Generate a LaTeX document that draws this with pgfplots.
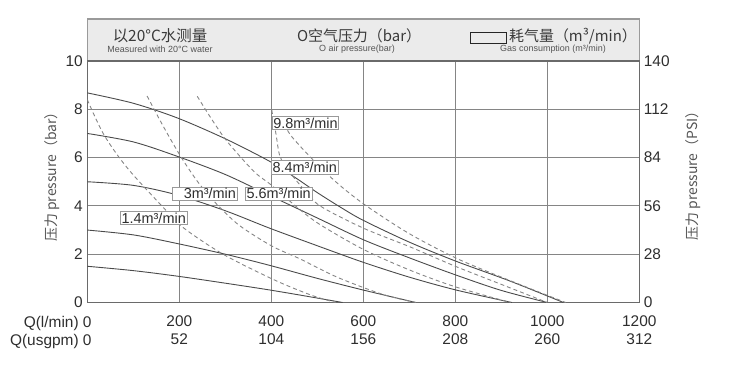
\documentclass[border=0pt]{standalone}
\usepackage{fontspec}
\setmainfont{Liberation Sans}
\newfontfamily\cjk{Noto Sans CJK SC}
\usepackage{pgfplots}
\pgfplotsset{compat=1.18}

\definecolor{gridc}{HTML}{858585}
\definecolor{framec}{HTML}{6A6A6A}
\definecolor{solidc}{HTML}{4A4A4A}
\definecolor{dashc}{HTML}{858585}
\definecolor{txt}{HTML}{2E2E2E}
\definecolor{hdrtxt}{HTML}{3A3A3A}
\definecolor{labtxt}{HTML}{555555}
\definecolor{hdrfill}{HTML}{EBEBEB}
\definecolor{hdrline}{HTML}{9A9A9A}

\begin{document}
\begin{tikzpicture}[x=1bp,y=1bp]
\useasboundingbox (0,0) rectangle (732,373);
% header band
\fill[hdrfill] (87.3,312) rectangle (639.3,354);
\draw[hdrline, line width=1.4bp] (87.3,312) rectangle (639.3,354);

\begin{axis}[
  at={(87.3bp,70.5bp)}, anchor=south west, scale only axis,
  width=552bp, height=241.5bp,
  xmin=0, xmax=1200, ymin=0, ymax=10,
  xtick={0,200,...,1200}, ytick={0,2,...,10},
  /pgf/number format/assume math mode=true,
  xticklabels={{\llap{Q(l/min) }0\\\llap{Q(usgpm) }0},{200\\52},{400\\104},{600\\156},{800\\208},{1000\\260},{1200\\312}},
  xticklabel style={align=center, font=\fontsize{15.5}{18}\selectfont, text=txt, yshift=-10bp},
  yticklabel style={font=\fontsize{15.5}{18}\selectfont, text=txt, xshift=-1bp},
  grid=major, major grid style={gridc, line width=1bp},
  axis line style={framec, line width=1.3bp},
  tick style={draw=none},
]
% solid curves: head pressure at each air pressure
\addplot[solidc, line width=0.9bp, smooth] coordinates {(0,8.68) (100,8.25) (196,7.64) (300,6.78) (396,5.85) (450,5.2) (500,4.55) (550,3.95) (600,3.4) (700,2.5) (800,1.72) (920,0.88) (1035,0)};
\addplot[solidc, line width=0.9bp, smooth] coordinates {(0,7.0) (100,6.65) (196,6.05) (300,5.3) (400,4.4) (500,3.5) (600,2.6) (700,1.85) (801,1.14) (900,0.5) (1000,0)};
\addplot[solidc, line width=0.9bp, smooth] coordinates {(0,5.0) (100,4.85) (196,4.45) (300,3.8) (396,3.08) (500,2.35) (599,1.67) (700,1.05) (801,0.52) (923,0)};
\addplot[solidc, line width=0.9bp, smooth] coordinates {(0,3.0) (100,2.8) (196,2.44) (300,2.0) (396,1.54) (500,1.0) (599,0.52) (714,0)};
\addplot[solidc, line width=0.9bp, smooth] coordinates {(0,1.5) (100,1.32) (196,1.09) (300,0.8) (396,0.52) (480,0.25) (555,0)};
% dashed curves: air consumption
\addplot[dashc, line width=0.9bp, dash pattern=on 4bp off 3bp, smooth] coordinates {(0,8.4) (36,6.95) (87,5.57) (163,3.98) (210,3.08) (297,1.98) (406,0.94) (486,0.31) (540,0)};
\addplot[dashc, line width=0.9bp, dash pattern=on 4bp off 3bp, smooth] coordinates {(130,8.55) (165,7.3) (203,6.05) (240,5.0) (280,4.1) (330,3.2) (400,2.35) (463,1.8) (543,1.05) (640,0.35) (714,0)};
\addplot[dashc, line width=0.9bp, dash pattern=on 4bp off 3bp, smooth] coordinates {(239,8.54) (270,7.6) (304,6.67) (362,5.43) (399,4.88) (440,4.2) (500,3.3) (600,2.2) (700,1.35) (800,0.65) (920,0)};
\addplot[dashc, line width=0.9bp, dash pattern=on 4bp off 3bp, smooth] coordinates {(401,7.97) (410,7.0) (419,6.04) (440,5.4) (470,4.7) (506,4.0) (600,3.08) (702,2.3) (800,1.5) (900,0.75) (1000,0)};
\addplot[dashc, line width=0.9bp, dash pattern=on 4bp off 3bp, smooth] coordinates {(430,7.4) (441,6.95) (484,6.04) (540,5.0) (603,4.05) (700,2.85) (806,1.8) (920,0.9) (1040,0)};
% labels
\tikzset{lbl/.style={draw=hdrline, fill=white, line width=0.9bp, inner sep=1.3bp, font=\fontsize{14.5}{16}\selectfont, text=txt}}
\node[lbl] at (axis cs:474.3,7.42) {9.8m³/min};
\node[lbl] at (axis cs:472.6,5.59) {8.4m³/min};
\node[lbl] at (axis cs:416,4.50) {5.6m³/min};
\node[lbl] at (axis cs:255.5,4.50) {\hspace*{10bp}3m³/min};
\node[lbl] at (axis cs:144.3,3.50) {1.4m³/min};
\end{axis}

\begin{axis}[
  at={(87.3bp,70.5bp)}, anchor=south west, scale only axis,
  width=552bp, height=241.5bp,
  xmin=0, xmax=1200, ymin=0, ymax=140,
  axis y line*=right, axis x line=none,
  ytick={0,28,...,140},
  /pgf/number format/assume math mode=true,
  yticklabel style={font=\fontsize{15.5}{18}\selectfont, text=txt, xshift=1bp},
  axis line style={framec, line width=1.3bp},
  tick style={draw=none},
]
\end{axis}

% header texts
\node[text=hdrtxt] at (160,337) {\cjk\fontsize{15.5}{18}\selectfont 以20°C水测量};
\node[text=labtxt] at (160,323.5) {\fontsize{9}{10}\selectfont Measured with 20°C water};
\node[text=hdrtxt] at (359,337) {\cjk\fontsize{15}{18}\selectfont O空气压力（bar）};
\node[text=labtxt] at (357,323.5) {\fontsize{9}{10}\selectfont O air pressure(bar)};
\draw[black!85, line width=0.9bp] (470,330) rectangle (506,341);
\node[text=hdrtxt] at (573,337) {\cjk\fontsize{15}{18}\selectfont 耗气量（m³/min）};
\node[text=labtxt] at (553,323.5) {\fontsize{9}{10}\selectfont Gas consumption (m³/min)};
% axis titles
\node[rotate=90, text=labtxt] at (52,199.5) {\cjk\fontsize{14}{16}\selectfont 压力 pressure（bar）};
\node[rotate=90, text=labtxt] at (693,200.5) {\cjk\fontsize{14}{16}\selectfont 压力 pressure（PSI）};
\end{tikzpicture}
\end{document}
